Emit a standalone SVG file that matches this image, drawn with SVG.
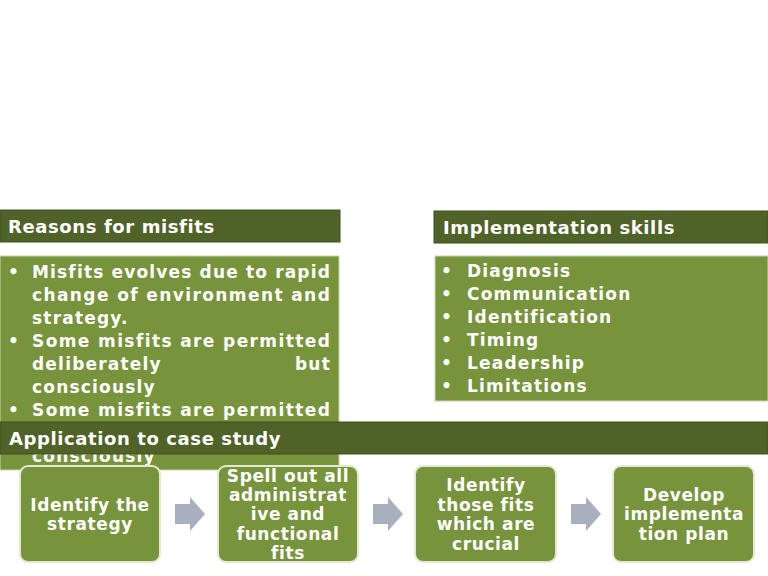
<svg xmlns="http://www.w3.org/2000/svg" width="768" height="576" viewBox="0 0 768 576">
<style>
.hdr{fill:#4f6228;stroke:#3f4f20;stroke-width:1}
.body{fill:#77933c;stroke:#c9d4ad;stroke-width:1}
.box{fill:#77933c;stroke:#e4e9d2;stroke-width:2}
.h{font-family:"DejaVu Sans",sans-serif;font-weight:bold;fill:#ffffff;font-size:18px;letter-spacing:0.6px}
.t{font-family:"DejaVu Sans",sans-serif;font-weight:bold;fill:#ffffff;font-size:17px;letter-spacing:1.2px}
.bt{font-family:"DejaVu Sans",sans-serif;font-weight:bold;fill:#ffffff;font-size:17px;letter-spacing:0.6px;text-anchor:middle}
.arr{fill:#a9afbf}
</style>
<rect width="768" height="576" fill="#ffffff"/>
<g id="reasons-header">
<rect class="hdr" x="0" y="210" width="340" height="32"/>
<text class="h" x="8" y="233">Reasons for misfits</text>
</g>
<g id="reasons-body">
<rect class="body" x="0" y="256" width="339" height="214"/>
<text class="t" x="8" y="278">•</text>
<text class="t" x="32" y="278" textLength="299" lengthAdjust="spacing">Misfits evolves due to rapid</text>
<text class="t" x="32" y="301" textLength="299" lengthAdjust="spacing">change of environment and</text>
<text class="t" x="32" y="324">strategy.</text>
<text class="t" x="8" y="347">•</text>
<text class="t" x="32" y="347" textLength="299" lengthAdjust="spacing">Some misfits are permitted</text>
<text class="t" x="32" y="370">deliberately</text>
<text class="t" x="331" y="370" text-anchor="end">but</text>
<text class="t" x="32" y="393">consciously</text>
<text class="t" x="8" y="416">•</text>
<text class="t" x="32" y="416" textLength="299" lengthAdjust="spacing">Some misfits are permitted</text>
<text class="t" x="32" y="462">consciously</text>
</g>
<g id="skills-header">
<rect class="hdr" x="434" y="211" width="334" height="32"/>
<text class="h" x="443" y="234">Implementation skills</text>
</g>
<g id="skills-body">
<rect class="body" x="435" y="256" width="333" height="145"/>
<text class="t" x="441" y="277">•</text><text class="t" x="467" y="277">Diagnosis</text>
<text class="t" x="441" y="300">•</text><text class="t" x="467" y="300">Communication</text>
<text class="t" x="441" y="323">•</text><text class="t" x="467" y="323">Identification</text>
<text class="t" x="441" y="346">•</text><text class="t" x="467" y="346">Timing</text>
<text class="t" x="441" y="369">•</text><text class="t" x="467" y="369">Leadership</text>
<text class="t" x="441" y="392">•</text><text class="t" x="467" y="392">Limitations</text>
</g>
<g id="application-header">
<rect class="hdr" x="0" y="422" width="768" height="32"/>
<text class="h" x="9" y="445">Application to case study</text>
</g>
<g id="step1">
<rect class="box" x="20" y="466" width="140" height="96" rx="8"/>
<text class="bt" x="90" y="511">Identify the</text>
<text class="bt" x="90" y="530">strategy</text>
</g>
<g id="step2">
<rect class="box" x="218" y="466" width="140" height="96" rx="8"/>
<text class="bt" x="288" y="482">Spell out all</text>
<text class="bt" x="288" y="501">administrat</text>
<text class="bt" x="288" y="520">ive and</text>
<text class="bt" x="288" y="540">functional</text>
<text class="bt" x="288" y="559">fits</text>
</g>
<g id="step3">
<rect class="box" x="415" y="466" width="141" height="96" rx="8"/>
<text class="bt" x="486" y="491">Identify</text>
<text class="bt" x="486" y="511">those fits</text>
<text class="bt" x="486" y="530">which are</text>
<text class="bt" x="486" y="550">crucial</text>
</g>
<g id="step4">
<rect class="box" x="613" y="466" width="141" height="96" rx="8"/>
<text class="bt" x="684" y="501">Develop</text>
<text class="bt" x="684" y="520">implementa</text>
<text class="bt" x="684" y="540">tion plan</text>
</g>
<g id="connectors">
<path class="arr" d="M175,504 H190 V497 L205,514 L190,531 V524 H175 Z"/>
<path class="arr" d="M373,504 H388 V497 L403,514 L388,531 V524 H373 Z"/>
<path class="arr" d="M571,504 H586 V497 L601,514 L586,531 V524 H571 Z"/>
</g>
</svg>
